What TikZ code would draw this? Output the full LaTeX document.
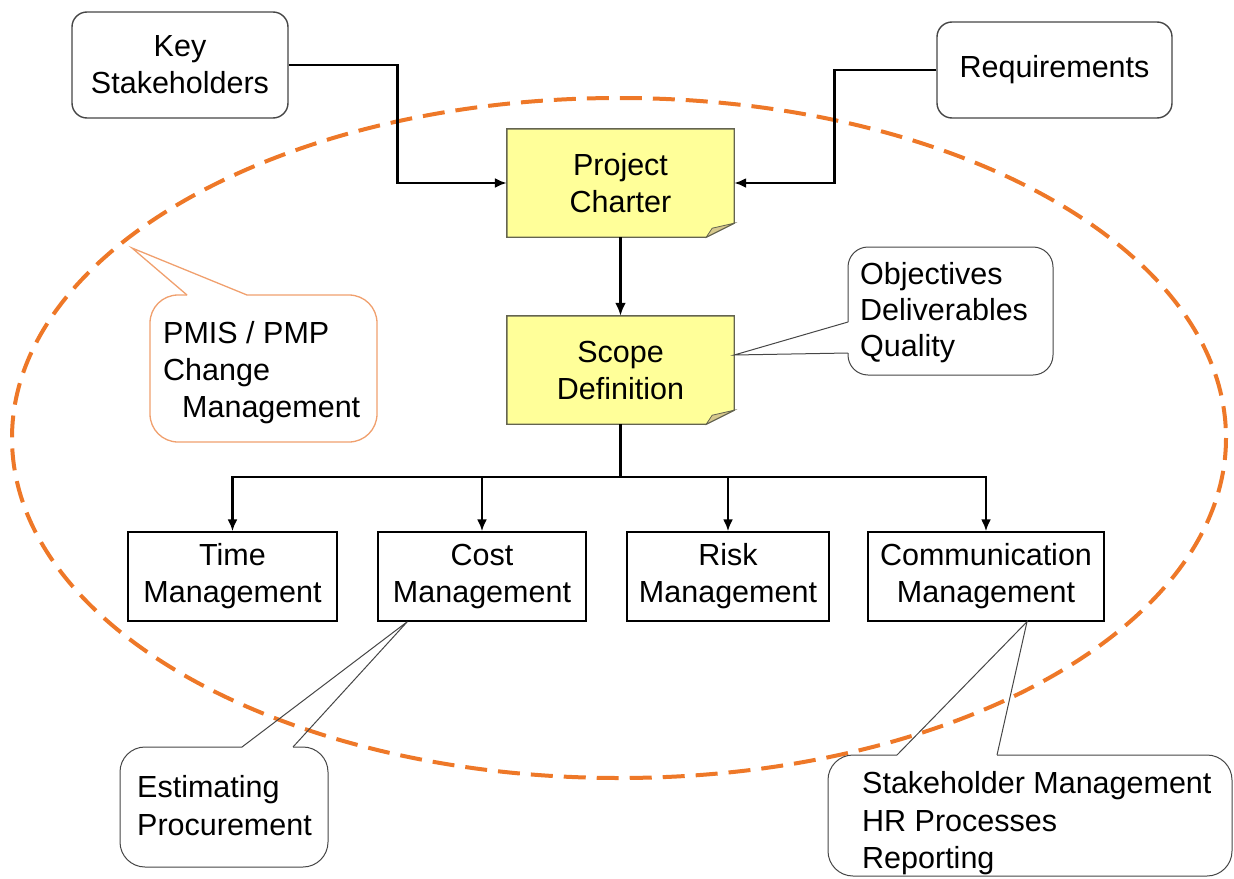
\documentclass[tikz,border=0pt]{standalone}
\usepackage{fontspec}
\setmainfont{Liberation Sans}
\usetikzlibrary{calc,arrows.meta}
\definecolor{ellc}{RGB}{238,120,40}
\definecolor{pmisc}{RGB}{240,160,110}
\definecolor{notec}{RGB}{255,255,153}
\definecolor{foldc}{RGB}{214,200,140}
\definecolor{edgec}{RGB}{70,70,70}
\definecolor{noteedge}{RGB}{100,100,80}
\begin{document}
\begin{tikzpicture}[x=1pt,y=-1pt,
  every node/.style={font=\fontsize{30.5}{37}\selectfont},
  box/.style={draw=black,line width=1.4pt,fill=white,align=center,inner sep=0pt},
  rbox/.style={draw=edgec,line width=1.4pt,rounded corners=15pt,fill=white,align=center,inner sep=0pt},
  notebox/.style={fill=notec,align=center,inner sep=0pt,minimum width=227pt,minimum height=108pt},
  conn/.style={line width=2.8pt,-{Latex[length=12pt,width=10pt]}},
  callout/.style={draw=edgec,line width=1pt,fill=white},
  calloutline/.style={draw=edgec,line width=1pt},
  txt/.style={anchor=base west,inner sep=0pt}]
\useasboundingbox (0,0) rectangle (1234,878);
% dashed ellipse
\draw[ellc,line width=4pt,dash pattern=on 22pt off 11pt] (619,438) ellipse [x radius=607, y radius=340];

% main nodes
\node[rbox,minimum width=216pt,minimum height=106pt] (key) at (180,65) {Key\\Stakeholders};
\node[rbox,minimum width=235pt,minimum height=96pt] (req) at (1054.5,70) {Requirements};
\node[notebox] (charter) at (620.5,183) {Project\\Charter};
\node[notebox] (scope) at (620.5,370) {Scope\\Definition};
\node[box,minimum width=209pt,minimum height=89pt] (time) at (232.5,576.5) {Time\\Management};
\node[box,minimum width=208pt,minimum height=89pt] (cost) at (482,576.5) {Cost\\Management};
\node[box,minimum width=202pt,minimum height=89pt] (risk) at (728,576.5) {Risk\\Management};
\node[box,minimum width=236pt,minimum height=89pt] (comm) at (986,576.5) {Communication\\Management};

% note outlines with folded corner
\foreach \n in {charter,scope}{
  \fill[white] (\n.south east) -- ($(\n.south east)+(0,-14)$) -- ($(\n.south east)+(-28,0)$) -- cycle;
  \draw[noteedge,line width=1.4pt] (\n.north west) -- (\n.north east) -- ($(\n.south east)+(0,-14)$) -- ($(\n.south east)+(-28,0)$) -- (\n.south west) -- cycle;
  \filldraw[fill=foldc,draw=noteedge,line width=0.8pt] ($(\n.south east)+(-28,0)$) -- ($(\n.south east)+(0,-14)$) -- ($(\n.south east)+(-22,-9)$) -- cycle;
}

% connectors
\draw[conn] (key.east) -- ++(109,0) |- (charter.west);
\draw[conn] (req.west) -- ++(-102,0) |- (charter.east);
\draw[line width=3.8pt,-{Latex[length=13pt,width=11pt]}] (charter.south) -- (scope.north);
\coordinate (bus) at (620.5,477);
\draw[line width=3.2pt] (scope.south) -- (bus);
\foreach \t in {time,cost,risk,comm} \draw[conn] (bus) -| (\t.north);

% Objectives callout
\filldraw[callout,rounded corners=20pt] (848,322) -- (848,247) -- (1053,247) -- (1053,375) -- (848,375) -- (848,353);
\coordinate (objtip) at ($(scope.east)+(0,-15)$);
\draw[calloutline] (848,322) -- (objtip) -- (848,353);
\node[txt] (o1) at (860,284) {Objectives};
\node[txt] (o2) at (860,320) {Deliverables};
\node[txt] (o3) at (860,356) {Quality};

% PMIS callout
\filldraw[draw=pmisc,line width=1.3pt,fill=white,rounded corners=28pt] (247,295) -- (377,295) -- (377,442) -- (150,442) -- (150,295) -- (187,295);
\coordinate (pmistip) at (132,248);
\draw[pmisc,line width=1.3pt] (187,295) -- (pmistip) -- (247,295);
\node[txt] (p1) at (163,343) {PMIS / PMP};
\node[txt] (p2) at (163,380) {Change};
\node[txt] (p3) at (182,417) {Management};

% Estimating callout
\filldraw[callout,rounded corners=25pt] (293,747) -- (328,747) -- (328,867) -- (120,867) -- (120,747) -- (242,747);
\coordinate (esttip) at ($(cost.south west)+(30,0)$);
\draw[calloutline] (242,747) -- (esttip) -- (293,747);
\node[txt] (e1) at (137,797) {Estimating};
\node[txt] (e2) at (137,835) {Procurement};

% Stakeholder callout
\filldraw[callout,rounded corners=25pt] (997,755) -- (1232,755) -- (1232,876) -- (828,876) -- (828,755) -- (897,755);
\coordinate (comtip) at ($(comm.south)+(41,0)$);
\draw[calloutline] (897,755) -- (comtip) -- (997,755);
\node[txt] (s1) at (862,793) {Stakeholder Management};
\node[txt] (s2) at (862,831) {HR Processes};
\node[txt] (s3) at (862,868) {Reporting};
\end{tikzpicture}
\end{document}
